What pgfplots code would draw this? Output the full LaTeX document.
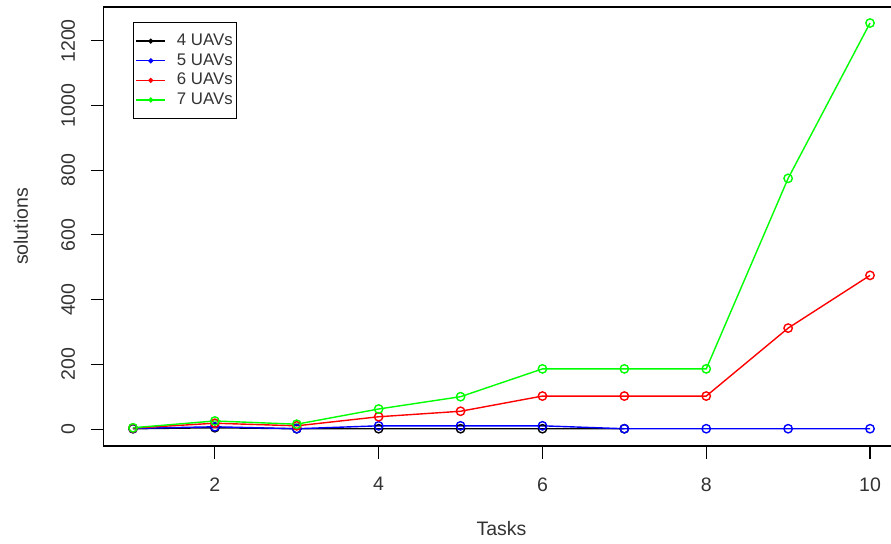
\documentclass[border=0pt]{standalone}
\usepackage{pgfplots}
\pgfplotsset{compat=1.18}
\usepackage{fontspec}
\setmainfont{Liberation Sans}
\definecolor{rblue}{RGB}{0,0,255}
\definecolor{rred}{RGB}{255,0,0}
\definecolor{rgreen}{RGB}{0,255,0}
\begin{document}
\begin{tikzpicture}
\path[use as bounding box] (-51.75pt,-48.5pt) rectangle (393.75pt,223pt);
\begin{axis}[
  at={(0pt,0pt)}, anchor=south west,
  scale only axis, width=398pt, height=219.5pt,
  xmin=0.64, xmax=10.36, ymin=-52.4, ymax=1304.6,
  axis line style={line width=0.55pt},
  tick align=outside, xtick pos=bottom, ytick pos=left,
  major tick length=6.25pt,
  tick style={black, line width=0.55pt},
  xtick={2,4,6,8,10}, ytick={0,200,400,600,800,1000,1200},
  /pgf/number format/assume math mode=true,
  /pgf/number format/1000 sep={},
  ticklabel style={font=\fontsize{9.75}{11}\selectfont, text=black!80},
  yticklabel style={rotate=90, anchor=south},
  yticklabel shift=4.4pt,
  xticklabel style={yshift=-6pt},
  xlabel={Tasks}, ylabel={solutions},
  label style={font=\fontsize{9.75}{11}\selectfont, text=black!80},
  xlabel style={at={(axis description cs:0.5,-0.189)}, anchor=center},
  ylabel style={at={(axis description cs:-0.1036,0.5)}, anchor=center},
  every axis plot/.append style={line width=0.7pt, mark=o, mark size=2.1pt},
  legend style={at={(0.0371,0.9658)}, anchor=north west, draw=black, line width=0.55pt,
    font=\fontsize{8.4}{9.75}\selectfont, row sep=0pt, inner xsep=1pt, inner ysep=4.4pt,
    text=black!80,
    nodes={inner sep=1pt, text height=6.2pt, text depth=1.6pt},
    /tikz/every odd column/.append style={column sep=4.5pt}},
  legend cell align=left,
  legend image code/.code={\draw[#1, mark=none] (0pt,0pt) -- (14.5pt,0pt);
     \fill[#1] (7.25pt,0pt) circle (0.9pt);},
]
\addplot[black] coordinates {(1,1) (2,4) (3,1) (4,1) (5,1) (6,1) (7,1)};
\addplot[rblue] coordinates {(1,2) (2,7) (3,1) (4,10) (5,10) (6,10) (7,1) (8,1) (9,1) (10,1)};
\addplot[rred] coordinates {(1,3) (2,18) (3,10) (4,38) (5,55) (6,102) (7,102) (8,102) (9,312) (10,475)};
\addplot[rgreen] coordinates {(1,4) (2,25) (3,15) (4,62) (5,100) (6,186) (7,186) (8,186) (9,775) (10,1255)};
\legend{4 UAVs\hspace{2.5pt}, 5 UAVs\hspace{2.5pt}, 6 UAVs\hspace{2.5pt}, 7 UAVs\hspace{2.5pt}}
\end{axis}
\end{tikzpicture}
\end{document}
